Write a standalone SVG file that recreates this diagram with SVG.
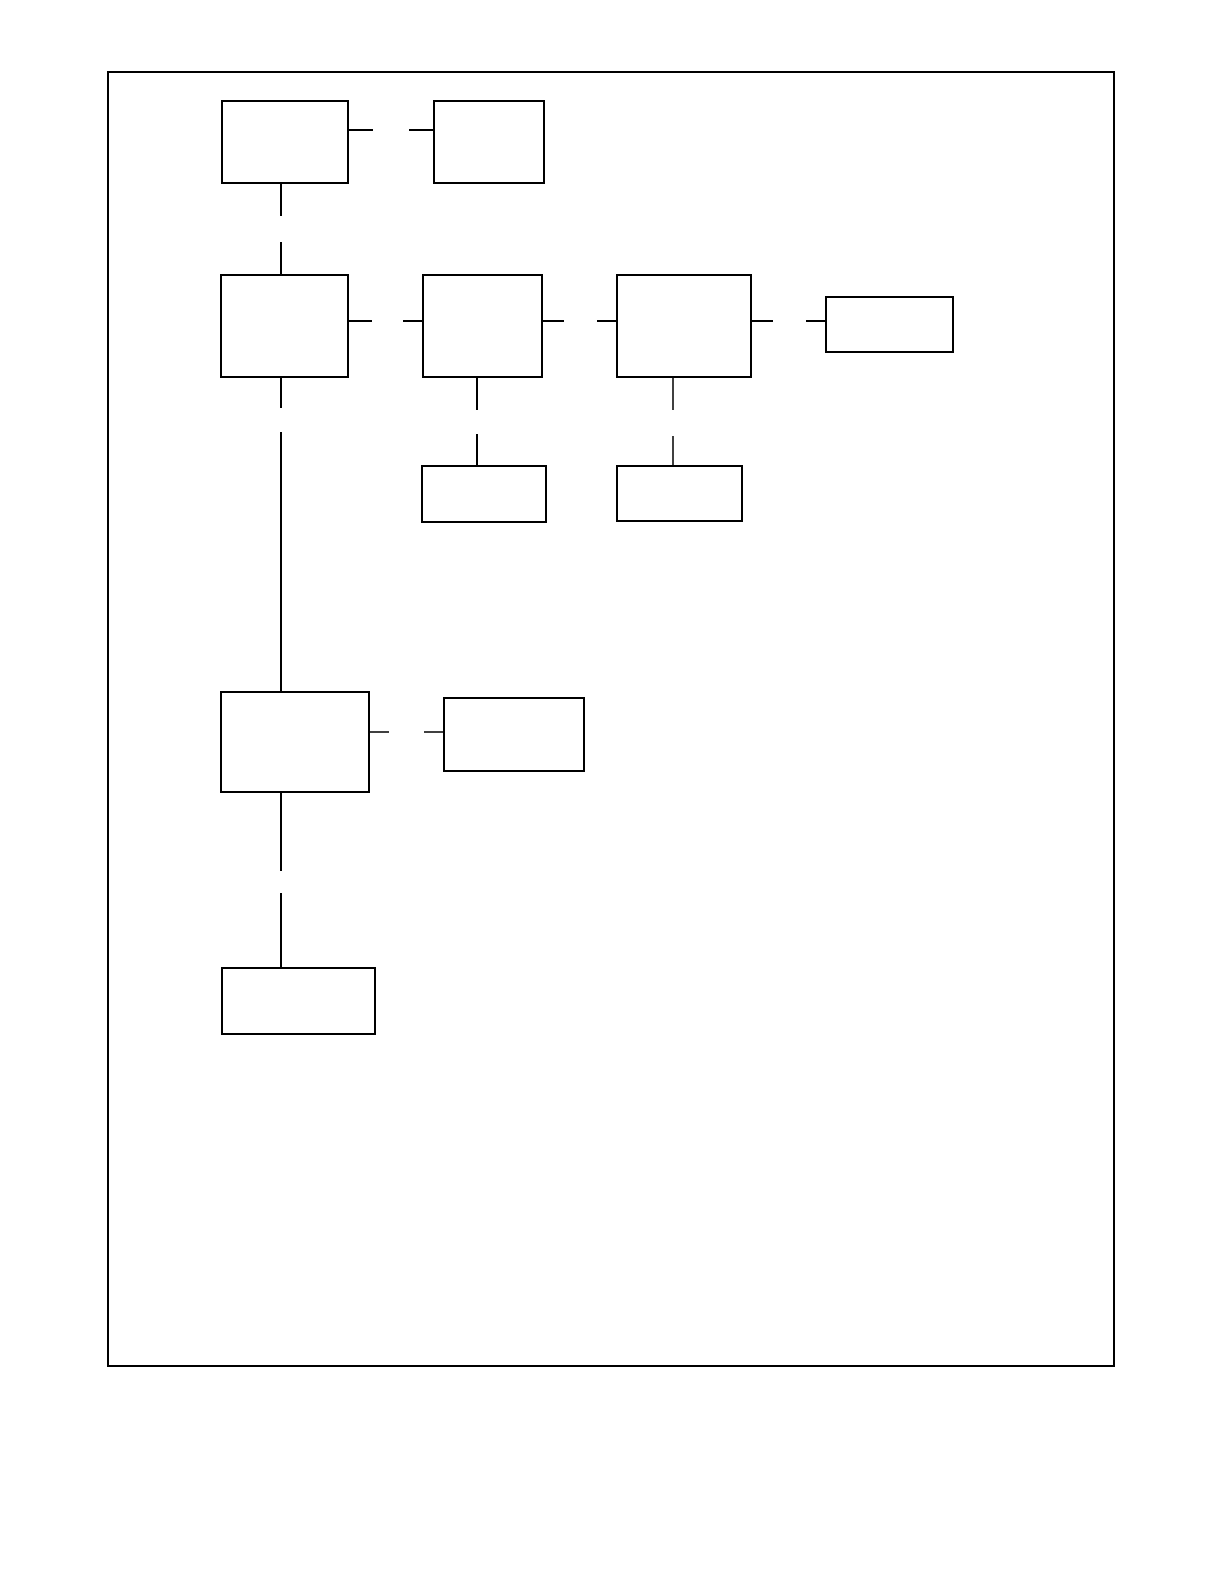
<svg xmlns="http://www.w3.org/2000/svg" width="1224" height="1584" viewBox="0 0 1224 1584">
<style>
.box{fill:#fff;stroke:#000;stroke-width:2}
.ln{stroke:#000;stroke-width:2;fill:none}
.thin{stroke:#000;stroke-width:1.5;fill:none}
</style>
<rect width="1224" height="1584" fill="#fff"/>
<rect id="frame" x="108" y="72" width="1006" height="1294" fill="none" stroke="#000" stroke-width="2"/>
<g id="connectors">
<line class="ln" x1="348" y1="130" x2="373" y2="130"/>
<line class="ln" x1="409" y1="130" x2="434" y2="130"/>
<line class="ln" x1="281" y1="183" x2="281" y2="216"/>
<line class="ln" x1="281" y1="242" x2="281" y2="275"/>
<line class="ln" x1="348" y1="321" x2="372" y2="321"/>
<line class="ln" x1="403" y1="321" x2="423" y2="321"/>
<line class="ln" x1="542" y1="321" x2="564" y2="321"/>
<line class="ln" x1="597" y1="321" x2="617" y2="321"/>
<line class="ln" x1="751" y1="321" x2="773" y2="321"/>
<line class="ln" x1="806" y1="321" x2="826" y2="321"/>
<line class="ln" x1="477" y1="377" x2="477" y2="410"/>
<line class="ln" x1="477" y1="434" x2="477" y2="466"/>
<line class="thin" x1="673" y1="377" x2="673" y2="410"/>
<line class="thin" x1="673" y1="436" x2="673" y2="466"/>
<line class="ln" x1="281" y1="377" x2="281" y2="408"/>
<line class="ln" x1="281" y1="432" x2="281" y2="692"/>
<line class="thin" x1="370" y1="732" x2="389" y2="732"/>
<line class="thin" x1="424" y1="732" x2="444" y2="732"/>
<line class="ln" x1="281" y1="792" x2="281" y2="871"/>
<line class="ln" x1="281" y1="893" x2="281" y2="968"/>
</g>
<g id="nodeA"><rect class="box" x="222" y="101" width="126" height="82"/></g>
<g id="nodeB"><rect class="box" x="434" y="101" width="110" height="82"/></g>
<g id="nodeC"><rect class="box" x="221" y="275" width="127" height="102"/></g>
<g id="nodeD"><rect class="box" x="423" y="275" width="119" height="102"/></g>
<g id="nodeE"><rect class="box" x="617" y="275" width="134" height="102"/></g>
<g id="nodeF"><rect class="box" x="826" y="297" width="127" height="55"/></g>
<g id="nodeG"><rect class="box" x="422" y="466" width="124" height="56"/></g>
<g id="nodeH"><rect class="box" x="617" y="466" width="125" height="55"/></g>
<g id="nodeI"><rect class="box" x="221" y="692" width="148" height="100"/></g>
<g id="nodeJ"><rect class="box" x="444" y="698" width="140" height="73"/></g>
<g id="nodeK"><rect class="box" x="222" y="968" width="153" height="66"/></g>
</svg>
